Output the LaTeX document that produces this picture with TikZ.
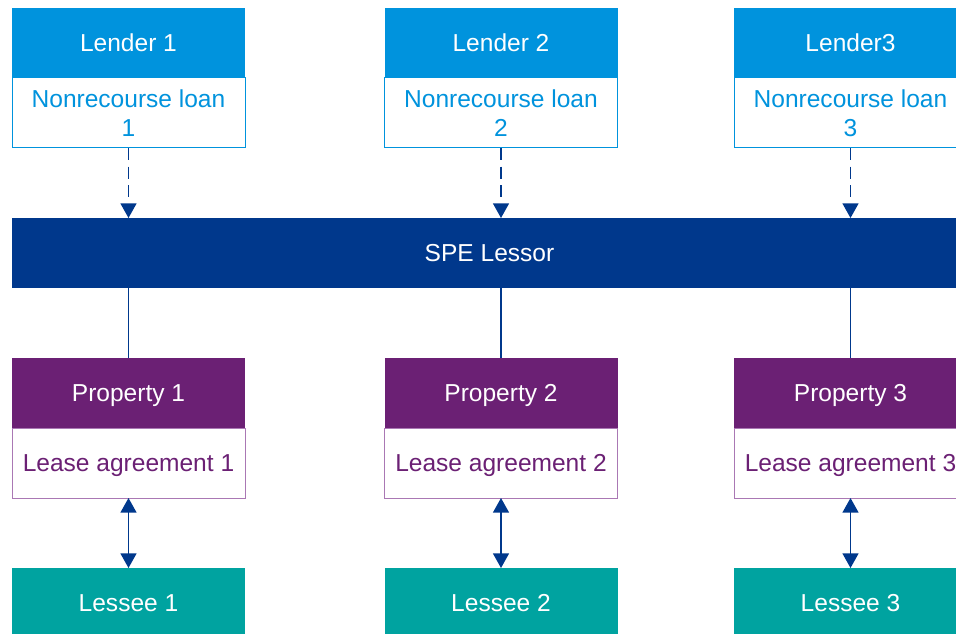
\documentclass[tikz,border=0pt]{standalone}
\usepackage{fontspec}
\setmainfont{Liberation Sans}
\usetikzlibrary{arrows.meta}

\definecolor{lenderblue}{RGB}{0,147,221}
\definecolor{spenavy}{RGB}{0,56,140}
\definecolor{propplum}{RGB}{107,32,116}
\definecolor{lilacline}{RGB}{170,120,180}
\definecolor{lesseeteal}{RGB}{0,163,160}

\tikzset{
  box/.style={rectangle, inner sep=0pt, outer sep=0pt, minimum width=174.75pt, minimum height=52.5pt, align=center, font=\fontsize{18.4}{21.8}\selectfont},
  onerow/.style={text height=13.2pt, text depth=0pt},
  lenderhead/.style={box, onerow, fill=lenderblue, text=white},
  loanbody/.style={box, draw=lenderblue, line width=0.75pt, fill=white, text=lenderblue},
  propertyhead/.style={box, onerow, fill=propplum, text=white},
  leasebody/.style={box, onerow, draw=lilacline, line width=0.75pt, fill=white, text=propplum},
  lesseebox/.style={box, onerow, fill=lesseeteal, text=white},
  spebar/.style={box, onerow, fill=spenavy, text=white, minimum width=716.25pt},
  link/.style={draw=spenavy, line width=1.1pt},
  loanarrow/.style={link, dash pattern=on 9pt off 5pt, -{Triangle[length=11pt,width=12pt]}},
  leasearrow/.style={link, {Triangle[length=11pt,width=12pt]}-{Triangle[length=11pt,width=12pt]}}
}

\begin{document}
\begin{tikzpicture}[x=0.75pt, y=-0.75pt]
    \useasboundingbox (0,0) rectangle (956,634);
    \clip (0,0) rectangle (956,634);

    % lenders and their loans
    \node[lenderhead] (ndLender1) at (128.5,43) {Lender 1};
    \node[loanbody] (ndLoan1) at (128.5,113) {Nonrecourse loan\\1};
    \node[lenderhead] (ndLender2) at (501,43) {Lender 2};
    \node[loanbody] (ndLoan2) at (501,113) {Nonrecourse loan\\2};
    \node[lenderhead] (ndLender3) at (850.5,43) {Lender3};
    \node[loanbody] (ndLoan3) at (850.5,113) {Nonrecourse loan\\3};

    % the SPE
    \node[spebar] (ndSPE) at (489.5,253) {SPE Lessor};

    % properties and leases
    \node[propertyhead] (ndProperty1) at (128.5,393) {Property 1};
    \node[leasebody] (ndLease1) at (128.5,463) {Lease agreement 1};
    \node[propertyhead] (ndProperty2) at (501,393) {Property 2};
    \node[leasebody] (ndLease2) at (501,463) {Lease agreement 2};
    \node[propertyhead] (ndProperty3) at (850.5,393) {Property 3};
    \node[leasebody] (ndLease3) at (850.5,463) {Lease agreement 3};

    % lessees
    \node[lesseebox] (ndLessee1) at (128.5,603) {Lessee 1};
    \node[lesseebox] (ndLessee2) at (501,603) {Lessee 2};
    \node[lesseebox] (ndLessee3) at (850.5,603) {Lessee 3};

    \draw[loanarrow] (ndLoan1.south) -- (ndLoan1.south |- ndSPE.north);
    \draw[loanarrow] (ndLoan2.south) -- (ndLoan2.south |- ndSPE.north);
    \draw[loanarrow] (ndLoan3.south) -- (ndLoan3.south |- ndSPE.north);

    \draw[link] (ndProperty1.north |- ndSPE.south) -- (ndProperty1.north);
    \draw[link] (ndProperty2.north |- ndSPE.south) -- (ndProperty2.north);
    \draw[link] (ndProperty3.north |- ndSPE.south) -- (ndProperty3.north);

    \draw[leasearrow] (ndLease1.south) -- (ndLessee1.north);
    \draw[leasearrow] (ndLease2.south) -- (ndLessee2.north);
    \draw[leasearrow] (ndLease3.south) -- (ndLessee3.north);
\end{tikzpicture}
\end{document}
